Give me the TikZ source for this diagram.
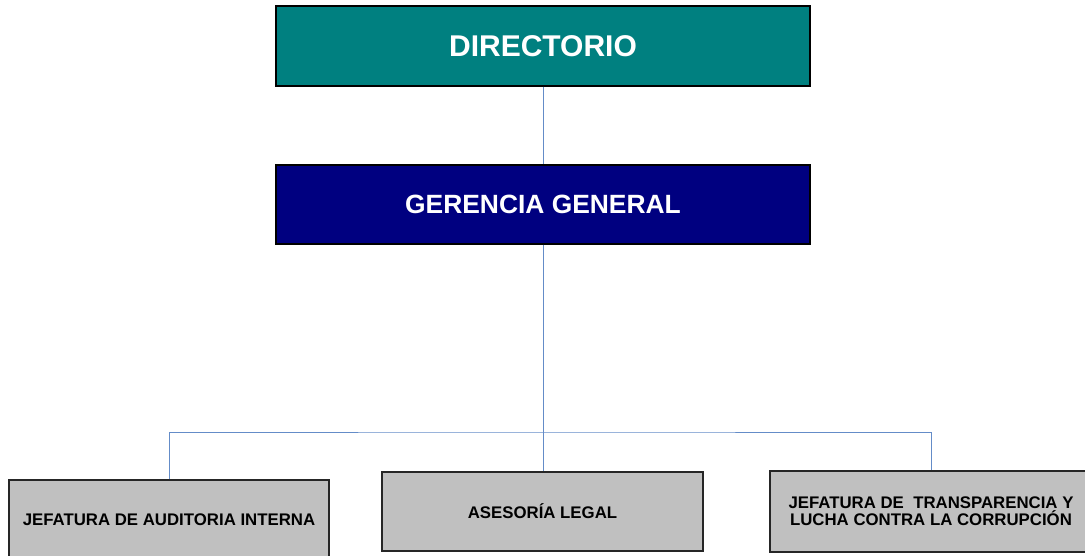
\documentclass[tikz,border=0pt]{standalone}
\usepackage{fontspec}
\setmainfont{Liberation Sans}
\definecolor{teal1}{RGB}{0,128,128}
\definecolor{navy1}{RGB}{0,0,128}
\definecolor{grey1}{RGB}{192,192,192}
\definecolor{conn}{RGB}{100,140,200}
\begin{document}
\begin{tikzpicture}[x=1pt,y=-1pt,
  topbox/.style={draw=black,line width=1.5pt,rectangle,minimum width=534pt,minimum height=80pt,inner sep=0pt,text=white,font=\bfseries},
  unitbox/.style={draw=black!85,line width=1.2pt,rectangle,fill=grey1,minimum width=321pt,minimum height=80pt,inner sep=0pt,align=center,font=\fontsize{16.8}{17.2}\selectfont\bfseries},
  link/.style={draw=conn,line width=0.8pt}]
\useasboundingbox (0,0) rectangle (1085,556);
\node[topbox,fill=teal1,font=\fontsize{30}{34}\selectfont\bfseries] (dir) at (543,46) {DIRECTORIO};
\node[topbox,fill=navy1,minimum height=79pt,font=\fontsize{26.4}{30}\selectfont\bfseries] (ger) at (543,204.5) {GERENCIA GENERAL};
\node[unitbox,minimum width=320pt] (b1) at (169,520) {JEFATURA DE AUDITORIA INTERNA};
\node[unitbox,minimum height=79pt] (b2) at (542.5,511.5) {ASESORÍA LEGAL};
\node[unitbox,minimum width=322pt,minimum height=81pt] (b3) at (931,511.5) {JEFATURA DE\ \ TRANSPARENCIA Y\\LUCHA CONTRA LA CORRUPCIÓN};
\coordinate (bus) at (543,432);
\draw[link] (dir.south) -- (ger.north);
\draw[link] (ger.south) -- (ger.south |- b2.north);
\draw[link] (b1.north) |- (bus) -| (b3.north);
\end{tikzpicture}
\end{document}
